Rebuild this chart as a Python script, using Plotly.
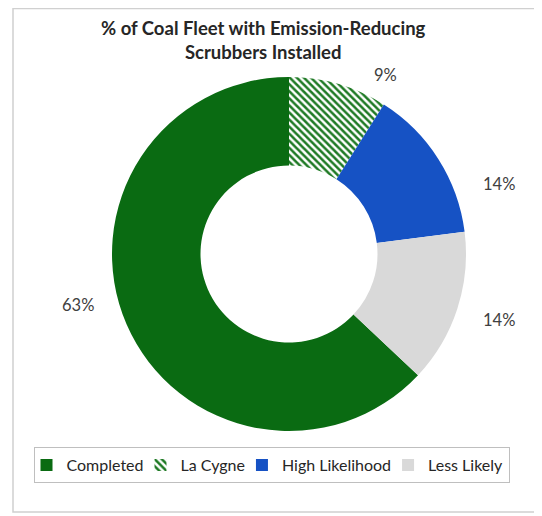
import plotly.graph_objects as go

# ---- data ----
categories = ["Completed", "La Cygne", "High Likelihood", "Less Likely"]
values = [63, 9, 14, 14]
colors = ["#0a6b12", "#ffffff", "#1652c4", "#d9d9d9"]
pattern_shapes = ["", "\\", "", ""]
pattern_fg = ["#0a6b12", "#1f7a25", "#1652c4", "#d9d9d9"]
title_lines = ["% of Coal Fleet with Emission-Reducing", "Scrubbers Installed"]

# page body has an 8px margin, so the figure is drawn 8px in from the window corner
OFF = 8
W, H = 542 - OFF, 516 - OFF
FONT = "Lato"


def fx(px):
    return (px - OFF) / W


def fy(py):
    return 1 - (py - OFF) / H


# label positions (window pixels) for each category's percentage label
label_px = {
    "Completed": (78, 305),
    "La Cygne": (385, 75),
    "High Likelihood": (499, 184),
    "Less Likely": (499, 320),
}

total = sum(values)
start_angle = 360 - 360 * values[0] / total  # first slice ends at 12 o'clock

fig = go.Figure(
    go.Pie(
        labels=categories,
        values=values,
        hole=0.5,
        sort=False,
        direction="clockwise",
        rotation=start_angle,
        textinfo="none",
        hoverinfo="label+percent",
        marker=dict(
            colors=colors,
            line=dict(width=0),
            pattern=dict(
                shape=pattern_shapes,
                fgcolor=pattern_fg,
                bgcolor=colors,
                size=5,
                solidity=0.5,
                fillmode="replace",
            ),
        ),
        domain=dict(x=[fx(112), fx(466)], y=[fy(431), fy(77)]),
    )
)

annotations = []
for cat, v in zip(categories, values):
    px, py = label_px[cat]
    annotations.append(dict(
        x=fx(px), y=fy(py), xref="paper", yref="paper",
        text=f"{round(100 * v / total)}%", showarrow=False,
        font=dict(family=FONT, size=16.5, color="#404040"),
        xanchor="center", yanchor="middle",
    ))

annotations.append(dict(
    x=fx(263), y=fy(40), xref="paper", yref="paper",
    text="<b>" + "<br>".join(title_lines) + "</b>", showarrow=False,
    font=dict(family=FONT, size=18.5, color="#262626"),
    xanchor="center", yanchor="middle", align="center",
))

fig.update_layout(
    width=W, height=H,
    margin=dict(l=0, r=0, t=0, b=0),
    paper_bgcolor="white",
    plot_bgcolor="white",
    font=dict(family=FONT, color="#262626"),
    annotations=annotations,
    showlegend=True,
    legend=dict(
        orientation="h",
        x=fx(271.5), xanchor="center",
        y=fy(447), yanchor="top",
        bordercolor="#bfbfbf", borderwidth=1,
        bgcolor="white",
        font=dict(family=FONT, size=16, color="#262626"),
        traceorder="normal",
        itemwidth=30,
        indentation=-8,
    ),
    shapes=[dict(
        type="rect", xref="paper", yref="paper",
        x0=fx(13), x1=fx(537), y0=fy(512), y1=fy(OFF + 0.5),
        line=dict(color="#d0d0d0", width=1.5),
        layer="below",
    )],
)

fig.write_html("out.html")
